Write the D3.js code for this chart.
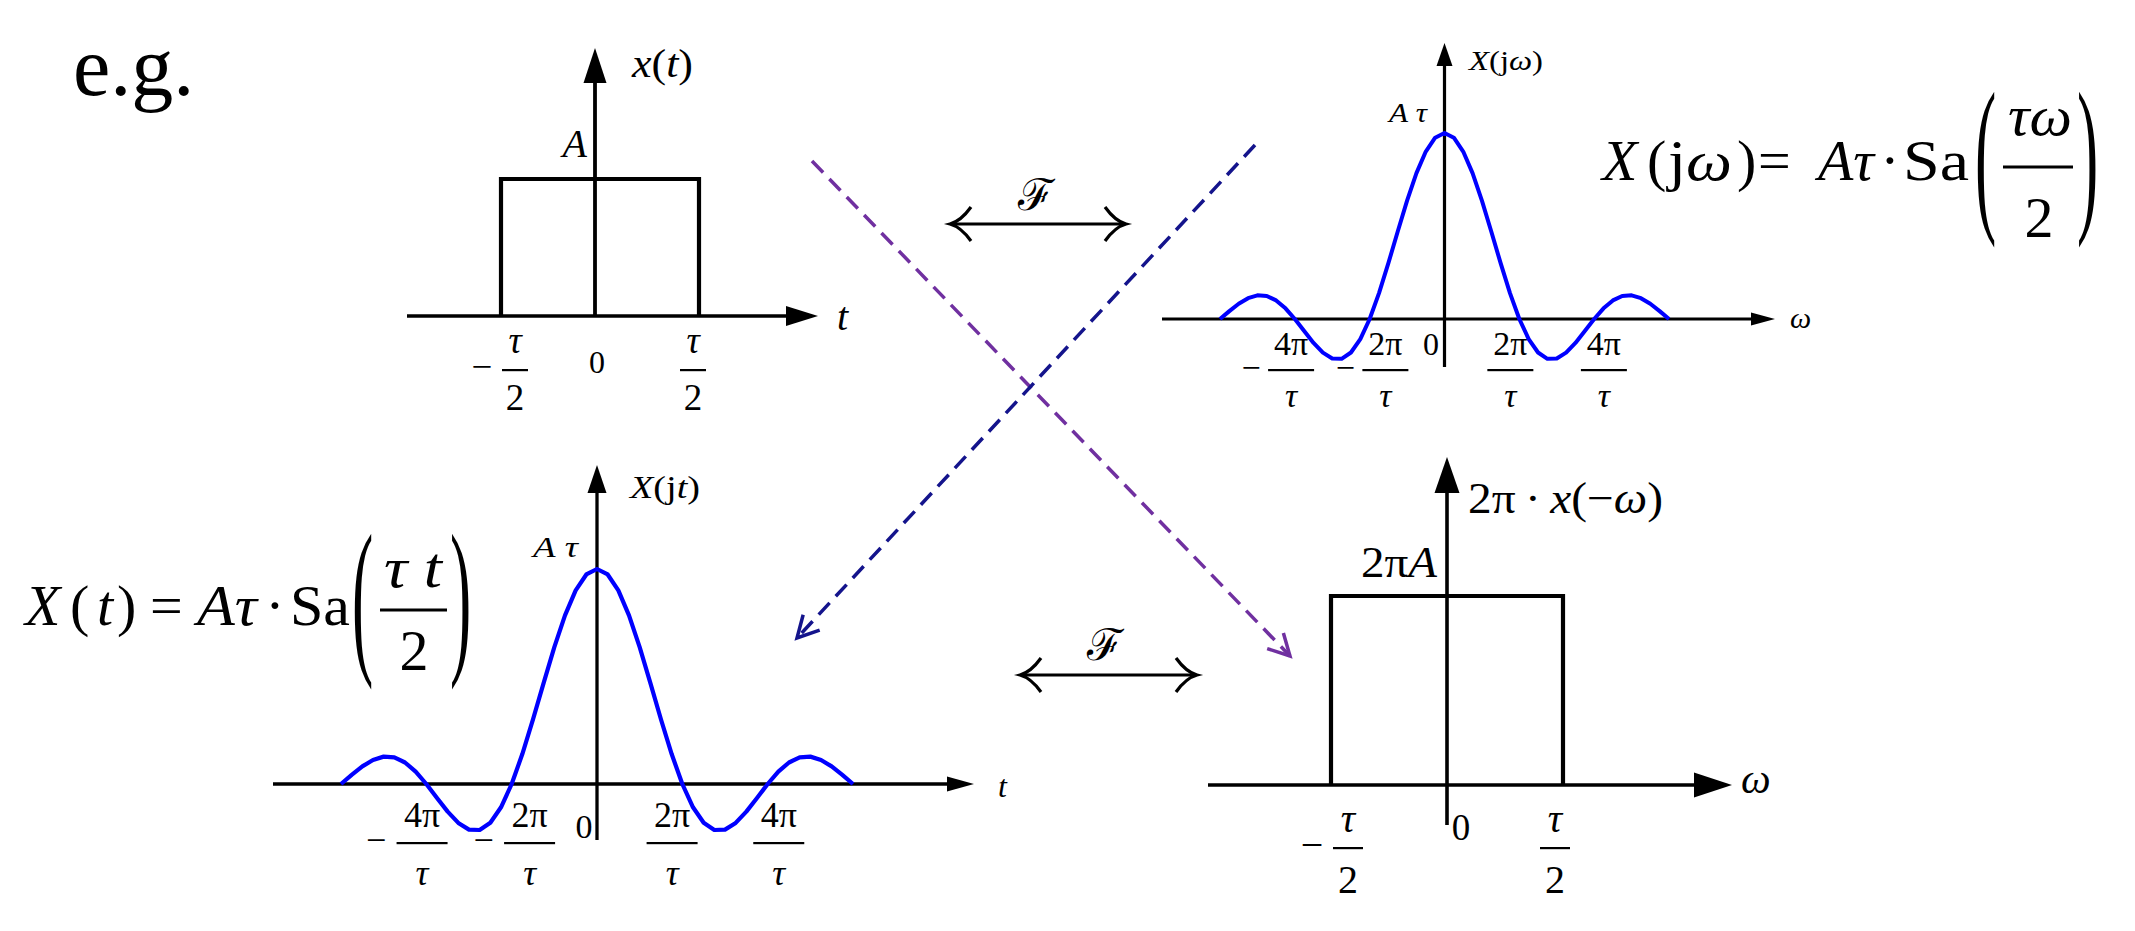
<!DOCTYPE html>
<html><head><meta charset="utf-8">
<script src="https://cdn.jsdelivr.net/npm/d3@7"></script>
<style>
body{margin:0;background:#fff}
svg{display:block;background:#fff}
</style>
</head><body>
<svg id="c" width="2135" height="931"></svg>
<script>
// ---------------- DATA ----------------
// rectangular pulse (time in units of tau, level in units of A)
const pulseTime  = [-0.5, -0.5, 0.5, 0.5];
const pulseLevel = [0, 1, 1, 0];
// sampled Sa curve: abscissa in units of 2π/τ, ordinate in units of Aτ
const sincX = [-3,-2.875,-2.75,-2.625,-2.5,-2.375,-2.25,-2.125,-2,-1.875,-1.75,-1.625,-1.5,-1.375,-1.25,-1.125,-1,-0.875,-0.75,-0.625,-0.5,-0.375,-0.25,-0.125,0,0.125,0.25,0.375,0.5,0.625,0.75,0.875,1,1.125,1.25,1.375,1.5,1.625,1.75,1.875,2,2.125,2.25,2.375,2.5,2.625,2.75,2.875,3];
const sincY = [0,0.0424,0.0818,0.1120,0.1273,0.1238,0.1000,0.0573,0,-0.0650,-0.1286,-0.1810,-0.2122,-0.2139,-0.1801,-0.1083,0,0.1392,0.3001,0.4705,0.6366,0.7842,0.9003,0.9745,1,0.9745,0.9003,0.7842,0.6366,0.4705,0.3001,0.1392,0,-0.1083,-0.1801,-0.2139,-0.2122,-0.1810,-0.1286,-0.0650,0,0.0573,0.1000,0.1238,0.1273,0.1120,0.0818,0.0424,0];
// tick labels
const sincTickValues = [-2, -1, 1, 2];
const sincTickNums   = ["4π", "2π", "2π", "4π"];
const sincTickNeg    = [true, true, false, false];
const pulseTickValues = [-0.5, 0.5];
const pulseTickNeg    = [true, false];

// ---------------- HELPERS ----------------
const FONT = "'Liberation Serif', monospace";
const svg = d3.select("#c");
const idx = d3.range;

function label(x, y, parts, size, opts = {}) {
  const t = svg.append("text").attr("x", x).attr("y", y)
    .attr("font-size", size).attr("text-anchor", opts.anchor || "start")
    .attr("font-family", opts.family || FONT).attr("fill", "#000");
  if (opts.len) t.attr("textLength", opts.len).attr("lengthAdjust", "spacingAndGlyphs");
  parts.forEach(p => {
    t.append("tspan").text(p[0]).attr("font-style", p[1] ? "italic" : "normal");
  });
  return t;
}
function hArrow(x1, x2, y, hl, hh, sw) {
  svg.append("line").attr("x1", x1).attr("x2", x2 - hl + 1).attr("y1", y).attr("y2", y)
    .attr("stroke", "#000").attr("stroke-width", sw);
  svg.append("path").attr("d", `M${x2},${y}L${x2 - hl},${y - hh}L${x2 - hl},${y + hh}Z`).attr("fill", "#000");
}
function vArrow(x, yb, yt, hl, hh, sw) {
  svg.append("line").attr("x1", x).attr("x2", x).attr("y1", yb).attr("y2", yt + hl - 1)
    .attr("stroke", "#000").attr("stroke-width", sw);
  svg.append("path").attr("d", `M${x},${yt}L${x - hh},${yt + hl}L${x + hh},${yt + hl}Z`).attr("fill", "#000");
}
function frac(cx, num, den, size, numY, barY, denY, barW, minusDX) {
  label(cx, numY, num, size, {anchor: "middle"});
  svg.append("rect").attr("x", cx - barW / 2).attr("y", barY - 1).attr("width", barW).attr("height", 2.2).attr("fill", "#000");
  label(cx, denY, den, size, {anchor: "middle"});
  if (minusDX) label(cx - minusDX, barY + 0.25 * size, [["−", false]], size, {anchor: "middle"});
}
function bigParen(ch, x, cy, size, sx, sy) {
  svg.append("text").attr("transform", `translate(${x},${cy}) scale(${sx},${sy})`)
    .attr("font-family", FONT).attr("fill", "#000")
    .attr("x", 0).attr("y", 0.25 * size).attr("font-size", size).text(ch);
}
function dashedArrow(x1, y1, x2, y2, color) {
  svg.append("line").attr("x1", x1).attr("y1", y1).attr("x2", x2).attr("y2", y2)
    .attr("stroke", color).attr("stroke-width", 3.5).attr("stroke-dasharray", "16,9");
  const L = Math.hypot(x2 - x1, y2 - y1), ux = (x2 - x1) / L, uy = (y2 - y1) / L;
  const a = 28 * Math.PI / 180, len = 24;
  const w = s => [x2 - len * (ux * Math.cos(s * a) - uy * Math.sin(s * a)),
                  y2 - len * (ux * Math.sin(s * a) + uy * Math.cos(s * a))];
  const w1 = w(1), w2 = w(-1);
  svg.append("path").attr("d", `M${w1[0]},${w1[1]}L${x2},${y2}L${w2[0]},${w2[1]}`)
    .attr("fill", "none").attr("stroke", color).attr("stroke-width", 3.5);
}
function dblArrow(x1, x2, y) {
  svg.append("line").attr("x1", x1 + 2).attr("x2", x2 - 2).attr("y1", y).attr("y2", y)
    .attr("stroke", "#000").attr("stroke-width", 3);
  svg.append("path").attr("d",
    `M${x1 + 21},${y - 17}Q${x1 + 11},${y - 3} ${x1},${y}Q${x1 + 11},${y + 3} ${x1 + 21},${y + 17}` +
    `M${x2 - 21},${y - 17}Q${x2 - 11},${y - 3} ${x2},${y}Q${x2 - 11},${y + 3} ${x2 - 21},${y + 17}`)
    .attr("fill", "none").attr("stroke", "#000").attr("stroke-width", 3.2);
}

// ---------------- "e.g." ----------------
label(73, 95, [["e.g.", false]], 84);

// ---------------- TOP-LEFT: x(t) pulse ----------------
{
  const xs = d3.scaleLinear().domain([-0.5, 0, 0.5]).range([501, 595, 699]);
  const ys = d3.scaleLinear().domain([0, 1]).range([316, 179]);
  hArrow(407, 818, ys(0), 32, 10, 3.5);
  vArrow(xs(0), ys(0), 48, 35, 11.5, 3.8);
  svg.append("path").attr("d", d3.line().x(i => xs(pulseTime[i])).y(i => ys(pulseLevel[i]))(idx(pulseTime.length)))
    .attr("fill", "none").attr("stroke", "#000").attr("stroke-width", 4.2).attr("stroke-linejoin", "miter");
  label(632, 77, [["x", true], ["(", false], ["t", true], [")", false]], 40, {len: 61});
  label(587, 157, [["A", true]], 40, {anchor: "end"});
  label(837, 330, [["t", true]], 40);
  const off = [14, -6];
  pulseTickValues.forEach((v, i) =>
    frac(xs(v) + off[i], [["τ", true]], [["2", false]], 37, 353, 370, 410, 26, pulseTickNeg[i] ? 33 : 0));
  label(597, 373, [["0", false]], 32, {anchor: "middle"});
}

// ---------------- TOP-RIGHT: X(jω) ----------------
{
  const xs = d3.scaleLinear().domain([-3, 3]).range([1220, 1669]);
  const ys = d3.scaleLinear().domain([0, 1]).range([319, 133]);
  hArrow(1162, 1775, ys(0), 24, 6.5, 3.2);
  vArrow(xs(0), 367, 43, 23, 8, 3.2);
  svg.append("path").attr("d", d3.line().x(i => xs(sincX[i])).y(i => ys(sincY[i]))(idx(sincX.length)))
    .attr("fill", "none").attr("stroke", "#0000ff").attr("stroke-width", 4).attr("stroke-linejoin", "round");
  label(1469, 70, [["X", true], ["(j", false], ["ω", true], [")", false]], 28, {len: 74});
  label(1389, 122, [["A", true], [" ", false], ["τ", true]], 27, {len: 38});
  label(1790, 328, [["ω", true]], 30);
  const off = [-0.05, 0.21, -0.12, 0.13];
  sincTickValues.forEach((v, i) =>
    frac(xs(v + off[i]), [[sincTickNums[i], false]], [["τ", true]], 34, 355, 370, 407, 46, sincTickNeg[i] ? 40 : 0));
  label(1431, 355, [["0", false]], 32, {anchor: "middle"});
}

// ---------------- BOTTOM-LEFT: X(jt) ----------------
{
  const xs = d3.scaleLinear().domain([-3, 3]).range([341, 853]);
  const ys = d3.scaleLinear().domain([0, 1]).range([784, 569]);
  hArrow(273, 974, ys(0), 27, 7.5, 3.5);
  vArrow(xs(0), 840, 465, 28, 9.5, 3.3);
  svg.append("path").attr("d", d3.line().x(i => xs(sincX[i])).y(i => ys(sincY[i]))(idx(sincX.length)))
    .attr("fill", "none").attr("stroke", "#0000ff").attr("stroke-width", 4.2).attr("stroke-linejoin", "round");
  label(630, 498, [["X", true], ["(j", false], ["t", true], [")", false]], 32, {len: 70});
  label(533, 557, [["A", true], [" ", false], ["τ", true]], 30, {len: 45});
  label(998, 797, [["t", true]], 32);
  const off = [-0.05, 0.21, -0.12, 0.13];
  sincTickValues.forEach((v, i) =>
    frac(xs(v + off[i]), [[sincTickNums[i], false]], [["τ", true]], 36, 827, 843, 885, 51, sincTickNeg[i] ? 46 : 0));
  label(584, 838, [["0", false]], 34, {anchor: "middle"});
}

// ---------------- BOTTOM-RIGHT: 2π·x(−ω) ----------------
{
  const xs = d3.scaleLinear().domain([-0.5, 0, 0.5]).range([1331, 1447, 1563]);
  const ys = d3.scaleLinear().domain([0, 1]).range([785, 596]);
  hArrow(1208, 1732, ys(0), 38, 12.5, 3.6);
  vArrow(xs(0), 825, 457, 36, 12.5, 3.6);
  svg.append("path").attr("d", d3.line().x(i => xs(pulseTime[i])).y(i => ys(pulseLevel[i]))(idx(pulseTime.length)))
    .attr("fill", "none").attr("stroke", "#000").attr("stroke-width", 4.2).attr("stroke-linejoin", "miter");
  label(1468, 513, [["2π\u2009·\u2009", false], ["x", true], ["(−", false], ["ω", true], [")", false]], 44, {len: 195});
  label(1361, 577, [["2π", false], ["A", true]], 44, {len: 76});
  label(1741, 793, [["ω", true]], 42);
  const off = [17, -8];
  pulseTickValues.forEach((v, i) =>
    frac(xs(v) + off[i], [["τ", true]], [["2", false]], 40, 832, 848, 893, 30, pulseTickNeg[i] ? 36 : 0));
  label(1461, 840, [["0", false]], 37, {anchor: "middle"});
}

// ---------------- FORMULAS ----------------
{
  const fs = 58, b = 180;
  label(1602, b, [["X", true]], fs);
  label(1647, b, [["(", false]], fs);
  label(1668, b, [["j", false], ["ω", true]], fs, {len: 64});
  label(1737, b, [[")", false]], fs);
  label(1758, b, [["=", false]], fs);
  label(1818, b, [["Aτ", true]], fs, {len: 56});
  label(1890, b, [["·", false]], fs, {anchor: "middle"});
  label(1903, b, [["Sa", false]], fs, {len: 66});
  bigParen("(", 1975, 168, fs, 1.1, 2.95);
  bigParen(")", 2077, 168, fs, 1.1, 2.95);
  label(2040, 135, [["τω", true]], fs, {anchor: "middle", len: 64});
  svg.append("rect").attr("x", 2003).attr("y", 165.5).attr("width", 70).attr("height", 3).attr("fill", "#000");
  label(2039, 237, [["2", false]], fs, {anchor: "middle"});
}
{
  const fs = 58, b = 625;
  label(25, b, [["X", true]], fs);
  label(70, b, [["(", false]], fs);
  label(97, b, [["t", true]], fs);
  label(117, b, [[")", false]], fs);
  label(150, b, [["=", false]], fs);
  label(197, b, [["Aτ", true]], fs, {len: 60});
  label(275, b, [["·", false]], fs, {anchor: "middle"});
  label(290, b, [["Sa", false]], fs, {len: 60});
  bigParen("(", 352, 610, fs, 1.1, 2.95);
  bigParen(")", 450, 610, fs, 1.1, 2.95);
  label(413, 587, [["τ t", true]], fs, {anchor: "middle", len: 58});
  svg.append("rect").attr("x", 380).attr("y", 608.5).attr("width", 67).attr("height", 3).attr("fill", "#000");
  label(414, 670, [["2", false]], fs, {anchor: "middle"});
}

// ---------------- ARROWS ----------------
dashedArrow(812, 161, 1290, 656, "#7030a0");
dashedArrow(1255, 145, 797, 638, "#14148c");
dblArrow(950, 1126, 224);
dblArrow(1020, 1197, 675);
label(1036, 210, [["ℱ", false]], 44, {anchor: "middle"});
label(1105, 660, [["ℱ", false]], 44, {anchor: "middle"});
</script>
</body></html>
